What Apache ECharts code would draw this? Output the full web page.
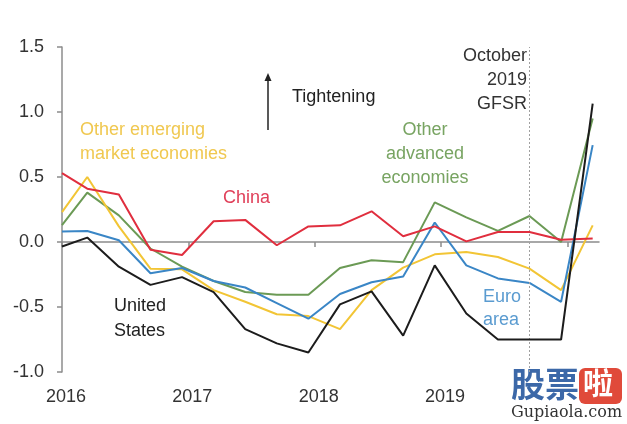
<!DOCTYPE html>
<html>
<head>
<meta charset="utf-8">
<script src="https://cdn.jsdelivr.net/npm/echarts@6/dist/echarts.min.js"></script>
<style>html,body{margin:0;padding:0;background:#fff}#c{width:627px;height:424px}</style>
</head>
<body>
<div id="c"></div>
<script>
// Time positions (decimal years) of each observation
var periods = [2016.0, 2016.2, 2016.45, 2016.7, 2016.95, 2017.2, 2017.45, 2017.7, 2017.95, 2018.2, 2018.45, 2018.7, 2018.95, 2019.2, 2019.45, 2019.7, 2019.95, 2020.2];
var china    = [0.53, 0.41, 0.365, -0.06, -0.10, 0.16, 0.17, -0.025, 0.12, 0.128, 0.236, 0.044, 0.12, 0.005, 0.077, 0.077, 0.018, 0.026];
var otherEM  = [0.23, 0.50, 0.12, -0.205, -0.21, -0.37, -0.46, -0.556, -0.57, -0.67, -0.37, -0.197, -0.095, -0.077, -0.115, -0.205, -0.37, 0.128];
var otherAdv = [0.13, 0.38, 0.205, -0.05, -0.19, -0.30, -0.385, -0.405, -0.405, -0.20, -0.14, -0.155, 0.305, 0.19, 0.085, 0.20, 0.0, 0.95];
var euro     = [0.08, 0.085, 0.013, -0.24, -0.20, -0.30, -0.35, -0.47, -0.59, -0.40, -0.31, -0.265, 0.15, -0.18, -0.28, -0.315, -0.46, 0.745];
var us       = [-0.035, 0.034, -0.19, -0.33, -0.27, -0.385, -0.67, -0.78, -0.85, -0.48, -0.38, -0.72, -0.18, -0.55, -0.75, -0.75, -0.75, 1.065];
var yearTicks = [2016, 2017, 2018, 2019, 2020];
var yearLabels = [2016, 2017, 2018, 2019];
var gfsrDate = 2019.7;

function pairs(v){ return periods.map(function(p,i){ return [p, v[i]]; }); }
var FONT = 'Liberation Sans, Arial, sans-serif';
var FS = 18;
var chart = echarts.init(document.getElementById('c'), null, {renderer:'canvas'});
function line(name, data, color, z){
  return {name:name, type:'line', data:pairs(data), symbol:'none', z:z,
    lineStyle:{color:color, width:2}, xAxisIndex:0, yAxisIndex:0, animation:false};
}
var series = [
  line('Other advanced economies', otherAdv, '#6b9a55', 2),
  line('Other emerging market economies', otherEM, '#f2c535', 3),
  line('Euro area', euro, '#3a86c6', 4),
  line('China', china, '#e02e3e', 5),
  line('United States', us, '#1c1c1c', 6)
];
series[0].markLine = {silent:true, symbol:'none', label:{show:false},
  lineStyle:{type:[2,2], color:'#a0a0a0', width:1}, data:[{xAxis:gfsrDate}]};

function txt(opts, s, color, extra){
  var st = {text:s, fill:color, font:FS+'px '+FONT, lineHeight:24};
  for (var k in extra) st[k] = extra[k];
  opts.type = 'text'; opts.style = st; return opts;
}

chart.setOption({
  animation:false,
  backgroundColor:'#fff',
  grid:{left:62, right:28, top:47, bottom:52},
  xAxis:[{
    type:'value', min:2016, max:2020.25, interval:1,
    axisLine:{onZero:true, lineStyle:{color:'#8c8c8c', width:1.5}},
    axisTick:{show:true, length:5, lineStyle:{color:'#8c8c8c', width:1.5}, customValues:yearTicks},
    axisLabel:{show:false}, splitLine:{show:false}
  },{
    type:'value', min:2016, max:2020.25, interval:1, position:'bottom',
    axisLine:{show:false, onZero:false}, axisTick:{show:false}, splitLine:{show:false},
    axisLabel:{show:true, customValues:yearLabels, margin:16, color:'#333', fontSize:FS, fontFamily:FONT,
      padding:[0,0,0,8], formatter:function(v){return String(v);}}
  }],
  yAxis:{
    type:'value', min:-1.0, max:1.5, interval:0.5,
    axisLine:{show:true, lineStyle:{color:'#8c8c8c', width:1.5}},
    axisTick:{show:true, length:5, lineStyle:{color:'#8c8c8c', width:1.5}},
    axisLabel:{color:'#333', fontSize:FS, fontFamily:FONT, margin:18,
      formatter:function(v){return v.toFixed(1);}},
    splitLine:{show:false}
  },
  series:series,
  graphic:[
    txt({left:80, top:118}, 'Other emerging\nmarket economies', '#f0c850'),
    txt({left:223, top:186}, 'China', '#e0405a'),
    txt({left:292, top:85}, 'Tightening', '#222'),
    {type:'line', shape:{x1:268, y1:130, x2:268, y2:80}, style:{stroke:'#222', lineWidth:1.5}},
    {type:'polygon', shape:{points:[[268,73],[264.5,81],[271.5,81]]}, style:{fill:'#222'}},
    txt({x:425, y:118}, 'Other\nadvanced\neconomies', '#78a462', {align:'center'}),
    txt({x:527, y:44}, 'October\n2019\nGFSR', '#333', {align:'right'}),
    txt({left:114, top:294}, 'United\nStates', '#222', {lineHeight:25}),
    txt({left:483, top:286}, 'Euro\narea', '#5a9bd0', {lineHeight:23}),
    {type:'text', left:511, top:367, style:{text:'股票', fill:'#3c68a8', font:'bold 34px "Noto Sans CJK SC"'}},
    {type:'rect', shape:{x:579, y:368, width:43, height:36, r:6}, style:{fill:'#e04a3a'}},
    {type:'text', left:583, top:368, style:{text:'啦', fill:'#fff', font:'bold 30px "Noto Sans CJK SC"'}},
    {type:'text', left:511, top:405, style:{text:'Gupiaola.com', fill:'#333', font:'16px "DejaVu Serif", serif'}}
  ]
});
</script>
</body>
</html>
